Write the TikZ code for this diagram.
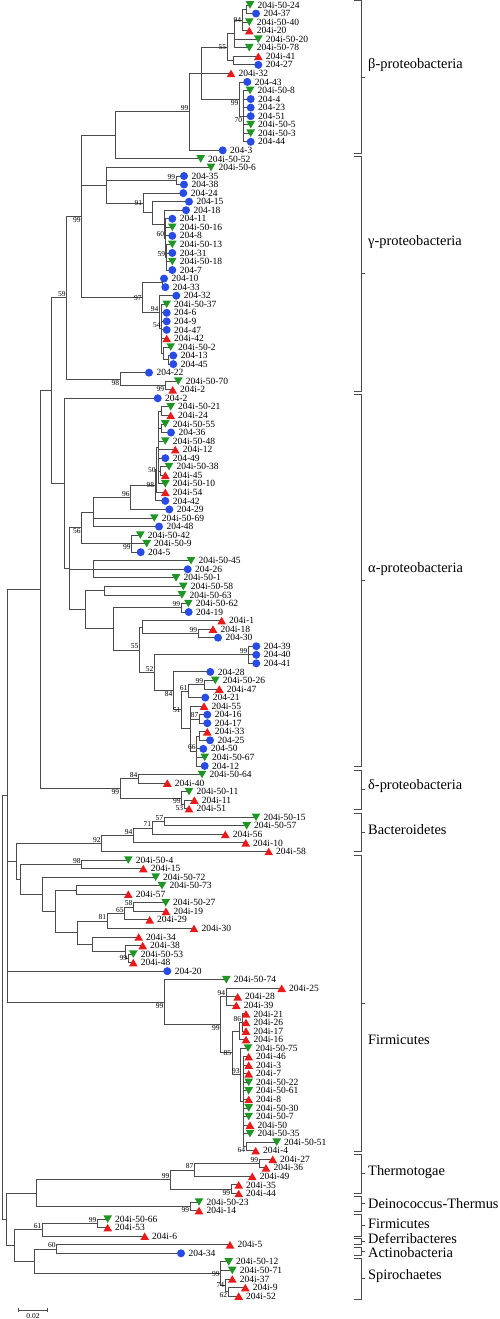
\documentclass[tikz,border=0pt]{standalone}
\usepackage{fontspec}
\setmainfont{Liberation Serif}
\usetikzlibrary{shapes.geometric,calc}

\definecolor{cblue}{RGB}{40,75,230}
\definecolor{cgreen}{RGB}{30,150,35}
\definecolor{cred}{RGB}{235,25,25}
\definecolor{treegray}{RGB}{75,75,75}

\pgfdeclarelayer{bg}
\pgfsetlayers{bg,main}

\tikzset{
  branch/.style={draw=treegray, line width=0.85pt, line cap=rect},
  mcirc/.style={circle, fill=cblue, minimum size=8pt, inner sep=0pt},
  mup/.style={regular polygon, regular polygon sides=3, fill=cred, minimum size=10pt, inner sep=0pt, yshift=-1.25pt},
  mdown/.style={regular polygon, regular polygon sides=3, shape border rotate=180, fill=cgreen, minimum size=10pt, inner sep=0pt, yshift=1.25pt},
  leaflab/.style={anchor=west, inner sep=0pt, font=\fontsize{9.5}{10}\selectfont},
  bs/.style={inner sep=0.8pt, font=\fontsize{7.5}{8}\selectfont},
  grp/.style={anchor=west, inner sep=0pt, font=\fontsize{14.4}{16}\selectfont},
  brk/.style={draw=treegray, line width=0.85pt},
}

% clade: name, x of the node, children (first ... last)
\newcommand\clade[3]{%
  \foreach \c [count=\ci] in {#3}{%
    \ifnum\ci=1 \xdef\cfirst{\c}\fi
    \xdef\clast{\c}}%
  \path let \p1=(\cfirst), \p2=(\clast) in (#2pt,{(\y1+\y2)/2}) coordinate (#1);%
  \begin{pgfonlayer}{bg}
    \draw[branch] (#1 |- \cfirst) -- (#1 |- \clast);
    \foreach \c in {#3} \draw[branch] (#1 |- \c) -- (\c);
  \end{pgfonlayer}}

\begin{document}
\begin{tikzpicture}[x=1pt, y=-1pt]
\useasboundingbox (0,0) rectangle (500,1319);

% leaves: number / x / marker / label
\foreach \n/\x/\k/\t in {
  1/250/mdown/204i-50-24, 2/256/mcirc/204-37, 3/249.3/mdown/204i-50-40, 4/249.3/mup/204i-20,
  5/258.3/mdown/204i-50-20, 6/249.3/mdown/204i-50-78, 7/258.3/mup/204i-41, 8/258.3/mcirc/204-27,
  9/231/mup/204i-32, 10/247.3/mcirc/204-43, 11/250/mdown/204i-50-8, 12/250.7/mcirc/204-4,
  13/250.7/mcirc/204-23, 14/250.7/mcirc/204-51, 15/250.7/mdown/204i-50-5, 16/250.7/mdown/204i-50-3,
  17/250.7/mcirc/204-44, 18/222.7/mcirc/204-3, 19/200.7/mdown/204i-50-52, 20/211/mdown/204i-50-6,
  21/184/mcirc/204-35, 22/184/mcirc/204-38, 23/183.3/mcirc/204-24, 24/189/mcirc/204-15,
  25/186/mcirc/204-18, 26/172.3/mcirc/204-11, 27/172.3/mdown/204i-50-16, 28/172.3/mcirc/204-8,
  29/172.3/mdown/204i-50-13, 30/172.3/mcirc/204-31, 31/172.3/mdown/204i-50-18, 32/172.3/mcirc/204-7,
  33/164/mcirc/204-10, 34/165.3/mcirc/204-33, 35/176.3/mcirc/204-32, 36/166.7/mdown/204i-50-37,
  37/166.7/mcirc/204-6, 38/166.7/mcirc/204-9, 39/166.7/mcirc/204-47, 40/166.7/mup/204i-42,
  41/170.7/mdown/204i-50-2, 42/173.3/mcirc/204-13, 43/173.3/mcirc/204-45, 44/149/mcirc/204-22,
  45/178.3/mdown/204i-50-70, 46/172.7/mup/204i-2, 47/157.7/mcirc/204-2, 48/170.7/mdown/204i-50-21,
  49/170.7/mup/204i-24, 50/165.3/mdown/204i-50-55, 51/171/mcirc/204-36, 52/165.3/mdown/204i-50-48,
  53/175.3/mup/204i-12, 54/165.3/mcirc/204-49, 55/169/mdown/204i-50-38, 56/165.3/mup/204i-45,
  57/165.3/mdown/204i-50-10, 58/165.3/mup/204i-54, 59/165.3/mcirc/204-42, 60/169.3/mcirc/204-29,
  61/154.3/mdown/204i-50-69, 62/159/mcirc/204-48, 63/140.3/mdown/204i-50-42, 64/146.7/mdown/204i-50-9,
  65/140.7/mcirc/204-5, 66/191/mdown/204i-50-45, 67/187.7/mcirc/204-26, 68/176/mdown/204i-50-1,
  69/183.3/mdown/204i-50-58, 70/182/mdown/204i-50-63, 71/188.3/mdown/204i-50-62, 72/188.7/mcirc/204-19,
  73/221.7/mup/204i-1, 74/213/mup/204i-18, 75/218/mcirc/204-30, 76/256.3/mcirc/204-39,
  77/256.3/mcirc/204-40, 78/256.3/mcirc/204-41, 79/210.3/mcirc/204-28, 80/215.3/mdown/204i-50-26,
  81/219.3/mup/204i-47, 82/205.3/mcirc/204-21, 83/204/mup/204i-55, 84/207.3/mcirc/204-16,
  85/207.3/mcirc/204-17, 86/207.3/mup/204i-33, 87/210/mcirc/204-25, 88/203.3/mcirc/204-50,
  89/204.7/mdown/204i-50-67, 90/204.7/mcirc/204-12, 91/202/mdown/204i-50-64, 92/167.3/mup/204i-40,
  93/189/mdown/204i-50-11, 94/194.3/mup/204i-11, 95/189/mup/204i-51, 96/256/mdown/204i-50-15,
  97/246.7/mdown/204i-50-57, 98/225.3/mup/204i-56, 99/245.7/mup/204i-10, 100/268.7/mup/204i-58,
  101/128.3/mdown/204i-50-4, 102/143.3/mup/204i-15, 103/155.7/mdown/204i-50-72, 104/162/mdown/204i-50-73,
  105/128.3/mup/204i-57, 106/165.7/mdown/204i-50-27, 107/166/mup/204i-19, 108/149.7/mup/204i-29,
  109/194/mup/204i-30, 110/138.7/mup/204i-34, 111/142.7/mup/204i-38, 112/133.3/mdown/204i-50-53,
  113/133.3/mup/204i-48, 114/167.3/mcirc/204-20, 115/226.3/mdown/204i-50-74, 116/281.7/mup/204i-25,
  117/237.7/mup/204i-28, 118/236.3/mup/204i-39, 119/246/mup/204i-21, 120/246/mup/204i-26,
  121/246/mup/204i-17, 122/246/mup/204i-16, 123/248/mdown/204i-50-75, 124/248.7/mup/204i-46,
  125/248.7/mup/204i-3, 126/248.7/mup/204i-7, 127/248.7/mdown/204i-50-22, 128/248.7/mdown/204i-50-61,
  129/248.7/mup/204i-8, 130/248.7/mdown/204i-50-30, 131/248.7/mdown/204i-50-7, 132/250/mup/204i-50,
  133/250/mdown/204i-50-35, 134/276.7/mdown/204i-50-51, 135/255.7/mup/204i-4, 136/272.7/mup/204i-27,
  137/266/mup/204i-36, 138/252.3/mup/204i-49, 139/238.7/mup/204i-35, 140/238.7/mup/204i-44,
  141/199/mdown/204i-50-23, 142/199/mup/204i-14, 143/107.7/mdown/204i-50-66, 144/107.7/mup/204i-53,
  145/144.7/mup/204i-6, 146/230/mup/204i-5, 147/181/mcirc/204-34, 148/228.7/mdown/204i-50-12,
  149/232.3/mdown/204i-50-71, 150/232.3/mup/204i-37, 151/245.3/mup/204i-9, 152/238.7/mup/204i-52}{
  \coordinate (l\n) at (\x,{5+(\n-1)*8.55});
  \edef\leafmark{\noexpand\node[\k] (m\n) at (l\n) {};}\leafmark
  \node[leaflab] (t\n) at ([xshift=7.3pt]l\n) {\t};
}

% beta
\clade{b12}{246}{l1,l2}
\clade{b94}{242}{b12,l3,l4}
\clade{ba}{234}{b94,l5,l6}
\clade{bb}{233}{l7,l8}
\clade{b55}{227}{ba,bb}
\clade{b70}{243}{l11,l12,l13,l14,l15,l16,l17}
\clade{b99b}{239.3}{l10,b70}
\clade{bB}{201.7}{b55,l9,b99b}
\clade{b99}{189.3}{bB,l18}
% gamma
\clade{gb}{115}{b99,l19}
\clade{g99a}{176}{l21,l22}
\clade{g59}{166}{l29,l30,l31,l32}
\clade{g60}{165}{l26,l27,l28,g59}
\clade{g25}{164}{l25,g60}
\clade{g24}{152.7}{l24,g25}
\clade{g91}{143}{l23,g24}
\clade{gx}{106.7}{l20,g99a,g91}
\clade{g33}{162}{l33,l34}
\clade{g42}{168}{l42,l43}
\clade{g41}{163}{l41,g42}
\clade{g54}{161.7}{l36,l37,l38,l39,l40,g41}
\clade{g94}{159.3}{l35,g54}
\clade{g97}{142.7}{g33,g94}
\clade{g81}{81.7}{gb,gx,g97}
\clade{g99c}{165}{l45,l46}
\clade{g98}{120}{l44,g99c}
\clade{g66}{66.7}{g81,g98}
% alpha
\clade{a1}{161}{l48,l49}
\clade{a2}{161.7}{l50,l51}
\clade{a55}{160}{l55,l56}
\clade{aTop}{158}{a1,a2,l52,l53,l54,a55,l57}
\clade{a50}{156.7}{aTop,l58}
\clade{aBig}{155}{a50,l59}
\clade{n96}{130.7}{aBig,l60}
\clade{na}{93.3}{n96,l61,l62}
\clade{n99d}{131.7}{l63,l64,l65}
\clade{n56}{81.7}{na,n99d}
\clade{nA3}{93.3}{l66,l67,l68}
\clade{a104}{104}{l69,l70}
\clade{n99g}{181}{l71,l72}
\clade{n99e}{198}{l74,l75}
\clade{n139}{142}{l73,n99e}
\clade{n99f}{248.3}{l76,l77,l78}
\clade{n99h}{204}{l80,l81}
\clade{n61}{188.3}{n99h,l82}
\clade{n87}{199.3}{l84,l85}
\clade{n86}{199}{l86,l87}
\clade{n66}{196.7}{n86,l88,l89,l90}
\clade{nB}{190}{l83,n87,n66}
\clade{n51}{181.7}{n61,nB}
\clade{n84}{173.3}{l79,n51}
\clade{n52}{154.3}{n99f,n84}
\clade{n55}{139.3}{n139,n52}
\clade{n113}{113.3}{n99g,n55}
\clade{nA2}{85}{a104,n113}
\clade{amain}{69.3}{n56,nA3,nA2}
\clade{alpha}{64}{l47,amain}
\clade{pa}{51.7}{g66,alpha}
% delta
\clade{d84}{138.3}{l91,l92}
\clade{de}{184}{l94,l95}
\clade{dc}{181.7}{l93,de}
\clade{d99}{120}{d84,dc}
\clade{prot}{40.7}{pa,d99}
% Bacteroidetes
\clade{bc57}{164}{l96,l97}
\clade{bc71}{152}{bc57,l98}
\clade{bc94}{133.3}{bc71,l99}
\clade{bc92}{101.7}{bc94,l100}
% Firmicutes
\clade{f98}{81.7}{l101,l102}
\clade{f5}{76}{l104,l105}
\clade{f58}{133.3}{l106,l107}
\clade{f65}{124.7}{f58,l108}
\clade{f81}{107}{f65,l109}
\clade{f99}{128}{l112,l113}
\clade{f8}{125}{l111,f99}
\clade{f7}{92}{l110,f8}
\clade{f6}{77.3}{f81,f7}
\clade{f4}{55}{f5,f6}
\clade{f2}{42.7}{l103,f4}
\clade{f1}{20}{f98,f2}
\clade{bf}{16}{bc92,f1}
\clade{F94}{226}{l116,l117,l118}
\clade{F86a}{242}{l119,l120,l121}
\clade{F86}{239.3}{F86a,l122}
\clade{F64}{246}{l134,l135}
\clade{F93b}{243.3}{l124,l125,l126,l127,l128,l129,l130,l131,l132,l133,F64}
\clade{F93}{240.7}{l123,F93b}
\clade{F85}{232}{F86,F93}
\clade{Fc}{220.7}{F94,F85}
\clade{Fbig}{164.3}{l115,Fc}
\clade{up}{7.3}{prot,bf,l114,Fbig}
% lower groups
\clade{t99a}{259}{l136,l137}
\clade{t87}{194.3}{t99a,l138}
\clade{t99b}{231}{l139,l140}
\clade{t99}{170.3}{t87,t99b}
\clade{dt99}{190}{l141,l142}
\clade{td}{36}{t99,dt99}
\clade{lf99}{97.3}{l143,l144}
\clade{lf61}{42.3}{lf99,l145}
\clade{ac60}{56.7}{l146,l147}
\clade{s62}{228}{l151,l152}
\clade{s74}{225}{l150,s62}
\clade{s99}{220.7}{l148,l149,s74}
\clade{n34}{34}{ac60,s99}
\clade{n14}{14}{lf61,n34}
\clade{low}{6.7}{td,n14}
\clade{root}{2.7}{up,low}

% bootstrap values
\foreach \c/\a/\v in {b94/east/94, b55/east/55, b70/north east/70, b99b/north east/99,
  b99/south east/99, g99a/south east/99, g60/south east/60, g59/south east/59,
  g91/east/91, g97/east/97, g94/south east/94, g54/south east/54, g99c/north east/99,
  g98/north east/98, g81/north east/99, g66/south east/59, a50/east/50, aBig/east/98,
  n96/south east/96, n99d/north east/99, n56/north east/56, n99g/south east/99,
  n99e/south east/99, n55/south east/55, n52/south east/52, n99f/south east/99,
  n84/north east/84, n99h/south east/99, n61/south east/61, n51/east/51,
  n87/south east/87, n66/south east/66, d84/south east/84, dc/north east/99,
  de/north east/53, d99/north east/99, bc57/south east/57, bc71/south east/71,
  bc94/south east/94, bc92/south east/92, f98/south east/98, f58/south east/58,
  f65/south east/65, f81/south east/81, f99/east/99, F94/south east/94,
  F86a/south east/86, F85/east/85, F93/south east/93, F64/north east/64,
  Fc/north east/99, Fbig/north east/99, t99a/south east/99, t87/south east/87,
  t99/south east/99, t99b/north east/99, dt99/north east/99, lf99/south east/99,
  lf61/south east/61, ac60/south east/60, s99/east/99, s74/east/74, s62/north east/62}
  \node[bs, anchor=\a] (v\c) at (\c) {\v};

% group brackets
\foreach \a/\b/\ly/\name [count=\i] in {0.7/153.3/65/β-proteobacteria,
  156/391.7/241.7/γ-proteobacteria, 394.3/766.7/569.3/α-proteobacteria,
  770/809.3/786/δ-proteobacteria, 813.3/851.7/830/Bacteroidetes,
  855/1151/1039.3/Firmicutes, 1154.3/1193.3/1171.7/Thermotogae,
  1196.7/1211/1204/Deinococcus-Thermus, 1214.3/1236.7/1223.5/Firmicutes,
  1238.3/1244.3/1238.8/Deferribacteres, 1247.3/1255/1252.8/Actinobacteria,
  1258.3/1299.3/1276/Spirochaetes}{
  \draw[brk] (354,\a) -- (361.7,\a) -- (361.7,\b) -- (354,\b);
  \draw[brk] (361.7,{(\a+\b)/2}) -- ++(3.5,0);
  \node[grp] (grp\i) at (368,\ly) {\name};
}

% scale bar
\coordinate (sbl) at (18.3,1310);
\coordinate (sbr) at (47.7,1310);
\draw[brk] (sbl) -- (sbr);
\draw[brk] (sbl) ++(0,-2) -- ++(0,4);
\draw[brk] (sbr) ++(0,-2) -- ++(0,4);
\node[bs] (sbt) at (33,1316) {0.02};
\end{tikzpicture}
\end{document}
